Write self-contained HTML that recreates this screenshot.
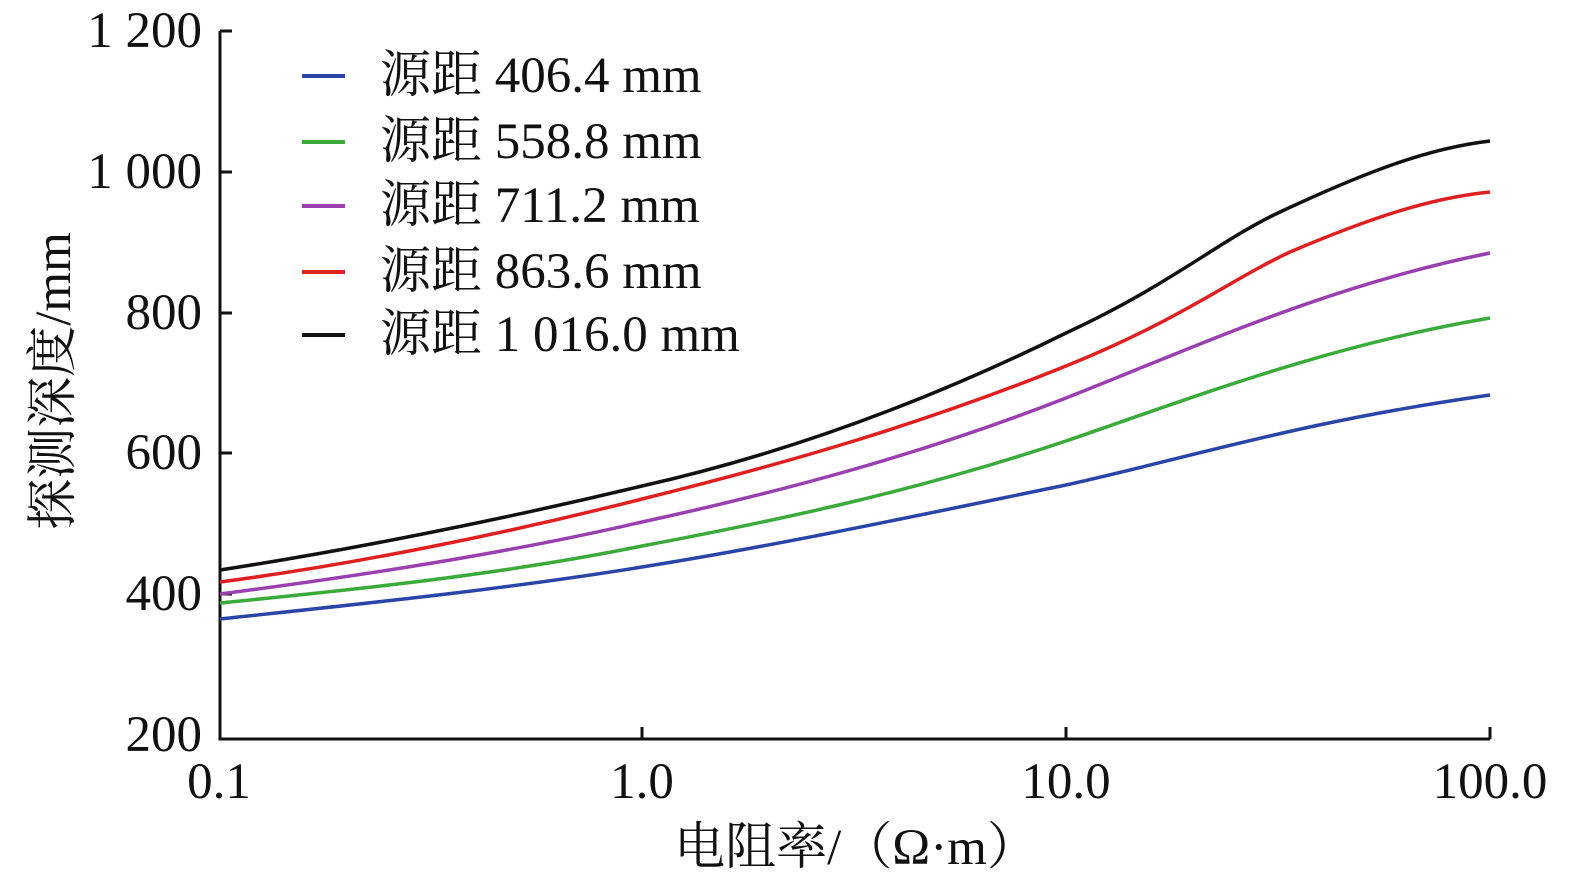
<!DOCTYPE html>
<html><head><meta charset="utf-8"><style>
html,body{margin:0;padding:0;background:#fff}
svg text{font-family:"Liberation Serif","Noto Serif CJK SC",serif;fill:#111}
</style></head><body>
<svg width="1575" height="886" viewBox="0 0 1575 886" xmlns="http://www.w3.org/2000/svg">
<g stroke="#111" stroke-width="3" fill="none">
<path d="M220,31 V739 H1490"/>
<path d="M220,31 h12 M220,172 h12 M220,313 h12 M220,453 h12 M220,594 h12"/>
<path d="M642,739 v-12 M1066,739 v-12 M1490,739 v-12"/>
</g>
<g font-size="51" text-anchor="end">
<text x="202" y="47">1 200</text>
<text x="202" y="188">1 000</text>
<text x="202" y="329">800</text>
<text x="202" y="469">600</text>
<text x="202" y="610">400</text>
<text x="202" y="751">200</text>
</g>
<g font-size="51" text-anchor="middle">
<text x="219" y="798">0.1</text>
<text x="642" y="798">1.0</text>
<text x="1066" y="798">10.0</text>
<text x="1490" y="798">100.0</text>
<text x="856" y="864">电阻率/（Ω·m）</text>
<text transform="translate(70,381) rotate(-90)">探测深度/mm</text>
</g>
<g fill="none" stroke-width="3.5" stroke-linejoin="round">
<path stroke="#2a45a8" d="M220,619 C350,605 500,590 642,567 C780,545 920,515 1066,485 C1200,455 1300,422 1490,395"/>
<path stroke="#3aaa3a" d="M220,603 C350,590 500,575 642,546 C780,520 920,490 1066,441 C1200,395 1330,345 1490,318"/>
<path stroke="#9a3fb0" d="M220,594 C350,577 500,555 642,522 C780,492 920,455 1066,398 C1200,345 1330,285 1490,253"/>
<path stroke="#e02020" d="M220,582 C350,565 500,535 642,499 C780,465 920,425 1066,366 C1180,320 1230,280 1290,252 C1370,218 1430,198 1490,192"/>
<path stroke="#111" d="M220,570 C350,550 500,520 642,486 C780,455 920,405 1066,333 C1170,285 1220,240 1280,212 C1370,170 1430,148 1490,141"/>
</g>
<g stroke-width="4">
<line x1="302" y1="76" x2="345" y2="76" stroke="#2a45a8"/>
<line x1="302" y1="142" x2="345" y2="142" stroke="#3aaa3a"/>
<line x1="302" y1="206" x2="345" y2="206" stroke="#9a3fb0"/>
<line x1="302" y1="272" x2="345" y2="272" stroke="#e02020"/>
<line x1="302" y1="335" x2="345" y2="335" stroke="#111"/>
</g>
<g font-size="51">
<text x="380" y="92">源距 406.4 mm</text>
<text x="380" y="158">源距 558.8 mm</text>
<text x="380" y="222">源距 711.2 mm</text>
<text x="380" y="288">源距 863.6 mm</text>
<text x="380" y="351">源距 1 016.0 mm</text>
</g>
</svg>
</body></html>
